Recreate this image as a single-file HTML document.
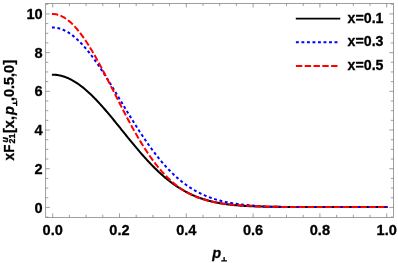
<!DOCTYPE html>
<html><head><meta charset="utf-8"><style>
html,body{margin:0;padding:0;background:#fff;}
svg{display:block;will-change:transform;}
text{font-family:"Liberation Sans",sans-serif;font-weight:bold;fill:#000;stroke:#000;stroke-width:0.3px;}
</style></head><body>
<svg width="398" height="263" viewBox="0 0 398 263">
<rect width="398" height="263" fill="#fff"/>
<g fill="none" stroke-linecap="butt" stroke-linejoin="round">
<path d="M51.90,74.67 L52.73,74.67 L53.57,74.69 L54.40,74.73 L55.24,74.79 L56.07,74.87 L56.91,74.97 L57.74,75.09 L58.58,75.23 L59.42,75.39 L60.25,75.57 L61.09,75.77 L61.92,75.99 L62.76,76.22 L63.59,76.48 L64.43,76.76 L65.26,77.05 L66.10,77.36 L66.93,77.70 L67.77,78.05 L68.60,78.42 L69.44,78.81 L70.27,79.21 L71.11,79.64 L71.94,80.08 L72.78,80.54 L73.61,81.02 L74.45,81.52 L75.28,82.03 L76.12,82.56 L76.95,83.11 L77.79,83.67 L78.62,84.25 L79.46,84.85 L80.29,85.46 L81.13,86.09 L81.96,86.73 L82.80,87.39 L83.63,88.07 L84.47,88.76 L85.31,89.46 L86.14,90.18 L86.98,90.91 L87.81,91.66 L88.65,92.42 L89.48,93.19 L90.32,93.98 L91.15,94.78 L91.99,95.59 L92.82,96.41 L93.66,97.25 L94.49,98.10 L95.33,98.95 L96.16,99.82 L97.00,100.70 L97.83,101.59 L98.67,102.49 L99.50,103.40 L100.34,104.32 L101.17,105.24 L102.01,106.18 L102.84,107.12 L103.68,108.08 L104.51,109.03 L105.35,110.00 L106.18,110.97 L107.02,111.95 L107.85,112.94 L108.69,113.93 L109.53,114.93 L110.36,115.93 L111.20,116.94 L112.03,117.95 L112.87,118.97 L113.70,119.98 L114.54,121.01 L115.37,122.03 L116.21,123.06 L117.04,124.09 L117.88,125.13 L118.71,126.16 L119.55,127.20 L120.38,128.23 L121.22,129.27 L122.05,130.31 L122.89,131.35 L123.72,132.39 L124.56,133.42 L125.39,134.46 L126.23,135.49 L127.06,136.53 L127.90,137.56 L128.73,138.59 L129.57,139.61 L130.40,140.64 L131.24,141.66 L132.07,142.68 L132.91,143.69 L133.75,144.70 L134.58,145.70 L135.42,146.71 L136.25,147.70 L137.09,148.69 L137.92,149.68 L138.76,150.66 L139.59,151.63 L140.43,152.60 L141.26,153.56 L142.10,154.52 L142.93,155.46 L143.77,156.41 L144.60,157.34 L145.44,158.27 L146.27,159.18 L147.11,160.10 L147.94,161.00 L148.78,161.89 L149.61,162.78 L150.45,163.66 L151.28,164.53 L152.12,165.39 L152.95,166.24 L153.79,167.08 L154.62,167.92 L155.46,168.74 L156.29,169.55 L157.13,170.36 L157.96,171.15 L158.80,171.94 L159.64,172.71 L160.47,173.48 L161.31,174.23 L162.14,174.98 L162.98,175.71 L163.81,176.44 L164.65,177.15 L165.48,177.85 L166.32,178.55 L167.15,179.23 L167.99,179.90 L168.82,180.56 L169.66,181.21 L170.49,181.85 L171.33,182.48 L172.16,183.10 L173.00,183.71 L173.83,184.31 L174.67,184.90 L175.50,185.47 L176.34,186.04 L177.17,186.60 L178.01,187.14 L178.84,187.68 L179.68,188.20 L180.51,188.72 L181.35,189.22 L182.18,189.72 L183.02,190.20 L183.86,190.68 L184.69,191.14 L185.53,191.60 L186.36,192.04 L187.20,192.48 L188.03,192.90 L188.87,193.32 L189.70,193.73 L190.54,194.13 L191.37,194.51 L192.21,194.89 L193.04,195.27 L193.88,195.63 L194.71,195.98 L195.55,196.33 L196.38,196.66 L197.22,196.99 L198.05,197.31 L198.89,197.62 L199.72,197.92 L200.56,198.22 L201.39,198.51 L202.23,198.79 L203.06,199.06 L203.90,199.33 L204.73,199.58 L205.57,199.84 L206.40,200.08 L207.24,200.32 L208.08,200.55 L208.91,200.77 L209.75,200.99 L210.58,201.20 L211.42,201.41 L212.25,201.60 L213.09,201.80 L213.92,201.98 L214.76,202.17 L215.59,202.34 L216.43,202.51 L217.26,202.68 L218.10,202.84 L218.93,202.99 L219.77,203.14 L220.60,203.29 L221.44,203.43 L222.27,203.56 L223.11,203.70 L223.94,203.82 L224.78,203.95 L225.61,204.06 L226.45,204.18 L227.28,204.29 L228.12,204.40 L228.95,204.50 L229.79,204.60 L230.62,204.70 L231.46,204.79 L232.29,204.88 L233.13,204.97 L233.97,205.05 L234.80,205.13 L235.64,205.21 L236.47,205.28 L237.31,205.35 L238.14,205.42 L238.98,205.49 L239.81,205.55 L240.65,205.61 L241.48,205.67 L242.32,205.73 L243.15,205.79 L243.99,205.84 L244.82,205.89 L245.66,205.94 L246.49,205.98 L247.33,206.03 L248.16,206.07 L249.00,206.11 L249.83,206.15 L250.67,206.19 L251.50,206.23 L252.34,206.26 L253.17,206.30 L254.01,206.33 L254.84,206.36 L255.68,206.39 L256.51,206.42 L257.35,206.45 L258.19,206.47 L259.02,206.50 L259.86,206.52 L260.69,206.55 L261.53,206.57 L262.36,206.59 L263.20,206.61 L264.03,206.63 L264.87,206.65 L265.70,206.67 L266.54,206.69 L267.37,206.70 L268.21,206.72 L269.04,206.73 L269.88,206.75 L270.71,206.76 L271.55,206.78 L272.38,206.79 L273.22,206.80 L274.05,206.81 L274.89,206.82 L275.72,206.84 L276.56,206.85 L277.39,206.86 L278.23,206.87 L279.06,206.87 L279.90,206.88 L280.73,206.89 L281.57,206.90 L282.41,206.91 L283.24,206.91 L284.08,206.92 L284.91,206.93 L285.75,206.93 L286.58,206.94 L287.42,206.94 L288.25,206.95 L289.09,206.95 L289.92,206.96 L290.76,206.96 L291.59,206.97 L292.43,206.97 L293.26,206.98 L294.10,206.98 L294.93,206.98 L295.77,206.99 L296.60,206.99 L297.44,206.99 L298.27,207.00 L299.11,207.00 L299.94,207.00 L300.78,207.00 L301.61,207.01 L302.45,207.01 L303.28,207.01 L304.12,207.01 L304.95,207.02 L305.79,207.02 L306.62,207.02 L307.46,207.02 L308.30,207.02 L309.13,207.02 L309.97,207.03 L310.80,207.03 L311.64,207.03 L312.47,207.03 L313.31,207.03 L314.14,207.03 L314.98,207.03 L315.81,207.03 L316.65,207.03 L317.48,207.04 L318.32,207.04 L319.15,207.04 L319.99,207.04 L320.82,207.04 L321.66,207.04 L322.49,207.04 L323.33,207.04 L324.16,207.04 L325.00,207.04 L325.83,207.04 L326.67,207.04 L327.50,207.04 L328.34,207.04 L329.17,207.04 L330.01,207.04 L330.84,207.04 L331.68,207.04 L332.52,207.04 L333.35,207.05 L334.19,207.05 L335.02,207.05 L335.86,207.05 L336.69,207.05 L337.53,207.05 L338.36,207.05 L339.20,207.05 L340.03,207.05 L340.87,207.05 L341.70,207.05 L342.54,207.05 L343.37,207.05 L344.21,207.05 L345.04,207.05 L345.88,207.05 L346.71,207.05 L347.55,207.05 L348.38,207.05 L349.22,207.05 L350.05,207.05 L350.89,207.05 L351.72,207.05 L352.56,207.05 L353.39,207.05 L354.23,207.05 L355.06,207.05 L355.90,207.05 L356.74,207.05 L357.57,207.05 L358.41,207.05 L359.24,207.05 L360.08,207.05 L360.91,207.05 L361.75,207.05 L362.58,207.05 L363.42,207.05 L364.25,207.05 L365.09,207.05 L365.92,207.05 L366.76,207.05 L367.59,207.05 L368.43,207.05 L369.26,207.05 L370.10,207.05 L370.93,207.05 L371.77,207.05 L372.60,207.05 L373.44,207.05 L374.27,207.05 L375.11,207.05 L375.94,207.05 L376.78,207.05 L377.61,207.05 L378.45,207.05 L379.28,207.05 L380.12,207.05 L380.95,207.05 L381.79,207.05 L382.63,207.05 L383.46,207.05 L384.30,207.05 L385.13,207.05 L385.97,207.05 L386.80,207.05 L387.64,207.05" stroke="#000" stroke-width="2.05"/>
<path d="M51.90,27.51 L52.73,27.51 L53.57,27.54 L54.40,27.60 L55.24,27.68 L56.07,27.79 L56.91,27.93 L57.74,28.09 L58.58,28.29 L59.42,28.51 L60.25,28.75 L61.09,29.03 L61.92,29.33 L62.76,29.66 L63.59,30.01 L64.43,30.39 L65.26,30.80 L66.10,31.23 L66.93,31.69 L67.77,32.18 L68.60,32.69 L69.44,33.22 L70.27,33.79 L71.11,34.37 L71.94,34.98 L72.78,35.62 L73.61,36.28 L74.45,36.96 L75.28,37.67 L76.12,38.40 L76.95,39.15 L77.79,39.93 L78.62,40.73 L79.46,41.55 L80.29,42.39 L81.13,43.26 L81.96,44.14 L82.80,45.05 L83.63,45.97 L84.47,46.92 L85.31,47.88 L86.14,48.87 L86.98,49.87 L87.81,50.89 L88.65,51.93 L89.48,52.99 L90.32,54.07 L91.15,55.16 L91.99,56.26 L92.82,57.39 L93.66,58.53 L94.49,59.68 L95.33,60.85 L96.16,62.03 L97.00,63.23 L97.83,64.44 L98.67,65.66 L99.50,66.89 L100.34,68.14 L101.17,69.40 L102.01,70.66 L102.84,71.94 L103.68,73.23 L104.51,74.53 L105.35,75.84 L106.18,77.15 L107.02,78.48 L107.85,79.81 L108.69,81.14 L109.53,82.49 L110.36,83.84 L111.20,85.19 L112.03,86.56 L112.87,87.92 L113.70,89.29 L114.54,90.67 L115.37,92.04 L116.21,93.42 L117.04,94.81 L117.88,96.19 L118.71,97.58 L119.55,98.96 L120.38,100.35 L121.22,101.74 L122.05,103.12 L122.89,104.51 L123.72,105.90 L124.56,107.28 L125.39,108.66 L126.23,110.04 L127.06,111.42 L127.90,112.79 L128.73,114.16 L129.57,115.52 L130.40,116.89 L131.24,118.24 L132.07,119.59 L132.91,120.94 L133.75,122.28 L134.58,123.61 L135.42,124.94 L136.25,126.26 L137.09,127.57 L137.92,128.87 L138.76,130.17 L139.59,131.46 L140.43,132.74 L141.26,134.01 L142.10,135.28 L142.93,136.53 L143.77,137.77 L144.60,139.01 L145.44,140.23 L146.27,141.45 L147.11,142.65 L147.94,143.84 L148.78,145.02 L149.61,146.19 L150.45,147.35 L151.28,148.50 L152.12,149.64 L152.95,150.76 L153.79,151.87 L154.62,152.97 L155.46,154.06 L156.29,155.13 L157.13,156.20 L157.96,157.24 L158.80,158.28 L159.64,159.31 L160.47,160.32 L161.31,161.31 L162.14,162.30 L162.98,163.27 L163.81,164.23 L164.65,165.17 L165.48,166.10 L166.32,167.02 L167.15,167.93 L167.99,168.82 L168.82,169.69 L169.66,170.56 L170.49,171.41 L171.33,172.25 L172.16,173.07 L173.00,173.88 L173.83,174.68 L174.67,175.46 L175.50,176.23 L176.34,176.98 L177.17,177.73 L178.01,178.46 L178.84,179.17 L179.68,179.88 L180.51,180.57 L181.35,181.25 L182.18,181.91 L183.02,182.56 L183.86,183.20 L184.69,183.83 L185.53,184.45 L186.36,185.05 L187.20,185.64 L188.03,186.22 L188.87,186.78 L189.70,187.34 L190.54,187.88 L191.37,188.41 L192.21,188.93 L193.04,189.43 L193.88,189.93 L194.71,190.42 L195.55,190.89 L196.38,191.35 L197.22,191.81 L198.05,192.25 L198.89,192.68 L199.72,193.10 L200.56,193.51 L201.39,193.92 L202.23,194.31 L203.06,194.69 L203.90,195.06 L204.73,195.43 L205.57,195.78 L206.40,196.13 L207.24,196.46 L208.08,196.79 L208.91,197.11 L209.75,197.42 L210.58,197.72 L211.42,198.02 L212.25,198.30 L213.09,198.58 L213.92,198.85 L214.76,199.12 L215.59,199.37 L216.43,199.62 L217.26,199.86 L218.10,200.10 L218.93,200.33 L219.77,200.55 L220.60,200.77 L221.44,200.98 L222.27,201.18 L223.11,201.38 L223.94,201.57 L224.78,201.75 L225.61,201.93 L226.45,202.11 L227.28,202.28 L228.12,202.44 L228.95,202.60 L229.79,202.75 L230.62,202.90 L231.46,203.05 L232.29,203.19 L233.13,203.32 L233.97,203.45 L234.80,203.58 L235.64,203.70 L236.47,203.82 L237.31,203.94 L238.14,204.05 L238.98,204.16 L239.81,204.26 L240.65,204.36 L241.48,204.46 L242.32,204.55 L243.15,204.64 L243.99,204.73 L244.82,204.81 L245.66,204.90 L246.49,204.97 L247.33,205.05 L248.16,205.12 L249.00,205.19 L249.83,205.26 L250.67,205.33 L251.50,205.39 L252.34,205.45 L253.17,205.52 L254.01,205.63 L254.84,205.73 L255.68,205.82 L256.51,205.91 L257.35,205.99 L258.19,206.06 L259.02,206.13 L259.86,206.20 L260.69,206.26 L261.53,206.32 L262.36,206.37 L263.20,206.42 L264.03,206.47 L264.87,206.51 L265.70,206.55 L266.54,206.59 L267.37,206.62 L268.21,206.65 L269.04,206.68 L269.88,206.71 L270.71,206.73 L271.55,206.76 L272.38,206.78 L273.22,206.80 L274.05,206.82 L274.89,206.84 L275.72,206.85 L276.56,206.87 L277.39,206.88 L278.23,206.90 L279.06,206.91 L279.90,206.92 L280.73,206.93 L281.57,206.94 L282.41,206.95 L283.24,206.96 L284.08,206.96 L284.91,206.97 L285.75,206.98 L286.58,206.98 L287.42,206.99 L288.25,206.99 L289.09,207.00 L289.92,207.00 L290.76,207.01 L291.59,207.01 L292.43,207.01 L293.26,207.02 L294.10,207.02 L294.93,207.02 L295.77,207.02 L296.60,207.03 L297.44,207.03 L298.27,207.03 L299.11,207.03 L299.94,207.03 L300.78,207.03 L301.61,207.04 L302.45,207.04 L303.28,207.04 L304.12,207.04 L304.95,207.04 L305.79,207.04 L306.62,207.04 L307.46,207.04 L308.30,207.04 L309.13,207.04 L309.97,207.04 L310.80,207.04 L311.64,207.05 L312.47,207.05 L313.31,207.05 L314.14,207.05 L314.98,207.05 L315.81,207.05 L316.65,207.05 L317.48,207.05 L318.32,207.05 L319.15,207.05 L319.99,207.05 L320.82,207.05 L321.66,207.05 L322.49,207.05 L323.33,207.05 L324.16,207.05 L325.00,207.05 L325.83,207.05 L326.67,207.05 L327.50,207.05 L328.34,207.05 L329.17,207.05 L330.01,207.05 L330.84,207.05 L331.68,207.05 L332.52,207.05 L333.35,207.05 L334.19,207.05 L335.02,207.05 L335.86,207.05 L336.69,207.05 L337.53,207.05 L338.36,207.05 L339.20,207.05 L340.03,207.05 L340.87,207.05 L341.70,207.05 L342.54,207.05 L343.37,207.05 L344.21,207.05 L345.04,207.05 L345.88,207.05 L346.71,207.05 L347.55,207.05 L348.38,207.05 L349.22,207.05 L350.05,207.05 L350.89,207.05 L351.72,207.05 L352.56,207.05 L353.39,207.05 L354.23,207.05 L355.06,207.05 L355.90,207.05 L356.74,207.05 L357.57,207.05 L358.41,207.05 L359.24,207.05 L360.08,207.05 L360.91,207.05 L361.75,207.05 L362.58,207.05 L363.42,207.05 L364.25,207.05 L365.09,207.05 L365.92,207.05 L366.76,207.05 L367.59,207.05 L368.43,207.05 L369.26,207.05 L370.10,207.05 L370.93,207.05 L371.77,207.05 L372.60,207.05 L373.44,207.05 L374.27,207.05 L375.11,207.05 L375.94,207.05 L376.78,207.05 L377.61,207.05 L378.45,207.05 L379.28,207.05 L380.12,207.05 L380.95,207.05 L381.79,207.05 L382.63,207.05 L383.46,207.05 L384.30,207.05 L385.13,207.05 L385.97,207.05 L386.80,207.05 L387.64,207.05" stroke="#0000ff" stroke-width="2.0" stroke-dasharray="2.9 2.62"/>
<path d="M51.90,13.99 L52.73,13.99 L53.57,14.03 L54.40,14.10 L55.24,14.21 L56.07,14.35 L56.91,14.53 L57.74,14.74 L58.58,14.99 L59.42,15.28 L60.25,15.60 L61.09,15.95 L61.92,16.34 L62.76,16.77 L63.59,17.23 L64.43,17.72 L65.26,18.25 L66.10,18.81 L66.93,19.40 L67.77,20.03 L68.60,20.69 L69.44,21.38 L70.27,22.11 L71.11,22.86 L71.94,23.65 L72.78,24.47 L73.61,25.32 L74.45,26.20 L75.28,27.11 L76.12,28.05 L76.95,29.02 L77.79,30.01 L78.62,31.04 L79.46,32.09 L80.29,33.17 L81.13,34.27 L81.96,35.40 L82.80,36.56 L83.63,37.74 L84.47,38.95 L85.31,40.18 L86.14,41.43 L86.98,42.71 L87.81,44.00 L88.65,45.32 L89.48,46.66 L90.32,48.02 L91.15,49.40 L91.99,50.79 L92.82,52.21 L93.66,53.64 L94.49,55.09 L95.33,56.56 L96.16,58.04 L97.00,59.54 L97.83,61.05 L98.67,62.57 L99.50,64.11 L100.34,65.66 L101.17,67.22 L102.01,68.79 L102.84,70.37 L103.68,71.96 L104.51,73.56 L105.35,75.17 L106.18,76.79 L107.02,78.41 L107.85,80.04 L108.69,81.67 L109.53,83.31 L110.36,84.95 L111.20,86.59 L112.03,88.24 L112.87,89.89 L113.70,91.54 L114.54,93.19 L115.37,94.84 L116.21,96.49 L117.04,98.14 L117.88,99.78 L118.71,101.43 L119.55,103.07 L120.38,104.71 L121.22,106.34 L122.05,107.97 L122.89,109.59 L123.72,111.21 L124.56,112.82 L125.39,114.42 L126.23,116.01 L127.06,117.60 L127.90,119.18 L128.73,120.75 L129.57,122.30 L130.40,123.85 L131.24,125.39 L132.07,126.92 L132.91,128.43 L133.75,129.93 L134.58,131.43 L135.42,132.90 L136.25,134.37 L137.09,135.82 L137.92,137.26 L138.76,138.68 L139.59,140.09 L140.43,141.48 L141.26,142.86 L142.10,144.22 L142.93,145.57 L143.77,146.90 L144.60,148.22 L145.44,149.52 L146.27,150.80 L147.11,152.07 L147.94,153.31 L148.78,154.55 L149.61,155.76 L150.45,156.96 L151.28,158.14 L152.12,159.30 L152.95,160.44 L153.79,161.57 L154.62,162.68 L155.46,163.77 L156.29,164.84 L157.13,165.90 L157.96,166.93 L158.80,167.95 L159.64,168.95 L160.47,169.93 L161.31,170.90 L162.14,171.84 L162.98,172.77 L163.81,173.68 L164.65,174.58 L165.48,175.45 L166.32,176.31 L167.15,177.15 L167.99,177.98 L168.82,178.78 L169.66,179.57 L170.49,180.34 L171.33,181.10 L172.16,181.84 L173.00,182.56 L173.83,183.26 L174.67,183.95 L175.50,184.63 L176.34,185.29 L177.17,185.93 L178.01,186.55 L178.84,187.17 L179.68,187.76 L180.51,188.35 L181.35,188.91 L182.18,189.47 L183.02,190.01 L183.86,190.53 L184.69,191.04 L185.53,191.54 L186.36,192.02 L187.20,192.50 L188.03,192.95 L188.87,193.40 L189.70,193.83 L190.54,194.26 L191.37,194.67 L192.21,195.06 L193.04,195.45 L193.88,195.83 L194.71,196.19 L195.55,196.55 L196.38,196.89 L197.22,197.22 L198.05,197.55 L198.89,197.86 L199.72,198.17 L200.56,198.46 L201.39,198.75 L202.23,199.02 L203.06,199.29 L203.90,199.55 L204.73,199.80 L205.57,200.05 L206.40,200.28 L207.24,200.51 L208.08,200.73 L208.91,200.95 L209.75,201.15 L210.58,201.35 L211.42,201.55 L212.25,201.73 L213.09,201.91 L213.92,202.09 L214.76,202.26 L215.59,202.42 L216.43,202.58 L217.26,202.73 L218.10,202.87 L218.93,203.02 L219.77,203.15 L220.60,203.28 L221.44,203.41 L222.27,203.53 L223.11,203.65 L223.94,203.77 L224.78,203.88 L225.61,203.98 L226.45,204.08 L227.28,204.18 L228.12,204.28 L228.95,204.37 L229.79,204.46 L230.62,204.54 L231.46,204.62 L232.29,204.70 L233.13,204.78 L233.97,204.85 L234.80,204.92 L235.64,204.99 L236.47,205.05 L237.31,205.11 L238.14,205.17 L238.98,205.23 L239.81,205.29 L240.65,205.34 L241.48,205.39 L242.32,205.44 L243.15,205.49 L243.99,205.54 L244.82,205.58 L245.66,205.62 L246.49,205.66 L247.33,205.70 L248.16,205.74 L249.00,205.77 L249.83,205.81 L250.67,205.84 L251.50,205.87 L252.34,205.90 L253.17,205.94 L254.01,206.00 L254.84,206.05 L255.68,206.11 L256.51,206.16 L257.35,206.20 L258.19,206.25 L259.02,206.29 L259.86,206.33 L260.69,206.37 L261.53,206.41 L262.36,206.44 L263.20,206.48 L264.03,206.51 L264.87,206.54 L265.70,206.57 L266.54,206.59 L267.37,206.62 L268.21,206.64 L269.04,206.67 L269.88,206.69 L270.71,206.71 L271.55,206.73 L272.38,206.75 L273.22,206.76 L274.05,206.78 L274.89,206.80 L275.72,206.81 L276.56,206.83 L277.39,206.84 L278.23,206.85 L279.06,206.86 L279.90,206.87 L280.73,206.88 L281.57,206.89 L282.41,206.90 L283.24,206.91 L284.08,206.92 L284.91,206.93 L285.75,206.94 L286.58,206.94 L287.42,206.95 L288.25,206.96 L289.09,206.96 L289.92,206.97 L290.76,206.97 L291.59,206.98 L292.43,206.98 L293.26,206.99 L294.10,206.99 L294.93,206.99 L295.77,207.00 L296.60,207.00 L297.44,207.00 L298.27,207.01 L299.11,207.01 L299.94,207.01 L300.78,207.01 L301.61,207.02 L302.45,207.02 L303.28,207.02 L304.12,207.02 L304.95,207.02 L305.79,207.03 L306.62,207.03 L307.46,207.03 L308.30,207.03 L309.13,207.03 L309.97,207.03 L310.80,207.03 L311.64,207.04 L312.47,207.04 L313.31,207.04 L314.14,207.04 L314.98,207.04 L315.81,207.04 L316.65,207.04 L317.48,207.04 L318.32,207.04 L319.15,207.04 L319.99,207.04 L320.82,207.04 L321.66,207.04 L322.49,207.04 L323.33,207.04 L324.16,207.04 L325.00,207.05 L325.83,207.05 L326.67,207.05 L327.50,207.05 L328.34,207.05 L329.17,207.05 L330.01,207.05 L330.84,207.05 L331.68,207.05 L332.52,207.05 L333.35,207.05 L334.19,207.05 L335.02,207.05 L335.86,207.05 L336.69,207.05 L337.53,207.05 L338.36,207.05 L339.20,207.05 L340.03,207.05 L340.87,207.05 L341.70,207.05 L342.54,207.05 L343.37,207.05 L344.21,207.05 L345.04,207.05 L345.88,207.05 L346.71,207.05 L347.55,207.05 L348.38,207.05 L349.22,207.05 L350.05,207.05 L350.89,207.05 L351.72,207.05 L352.56,207.05 L353.39,207.05 L354.23,207.05 L355.06,207.05 L355.90,207.05 L356.74,207.05 L357.57,207.05 L358.41,207.05 L359.24,207.05 L360.08,207.05 L360.91,207.05 L361.75,207.05 L362.58,207.05 L363.42,207.05 L364.25,207.05 L365.09,207.05 L365.92,207.05 L366.76,207.05 L367.59,207.05 L368.43,207.05 L369.26,207.05 L370.10,207.05 L370.93,207.05 L371.77,207.05 L372.60,207.05 L373.44,207.05 L374.27,207.05 L375.11,207.05 L375.94,207.05 L376.78,207.05 L377.61,207.05 L378.45,207.05 L379.28,207.05 L380.12,207.05 L380.95,207.05 L381.79,207.05 L382.63,207.05 L383.46,207.05 L384.30,207.05 L385.13,207.05 L385.97,207.05 L386.80,207.05 L387.64,207.05" stroke="#ff0000" stroke-width="2.0" stroke-dasharray="6.4 2.4"/>
</g>
<rect x="45.7" y="3.4" width="347.7" height="214.0" fill="none" stroke="#777" stroke-width="0.7"/>
<path d="M52.70,217.4 v-4.1 M52.70,3.4 v4.1 M69.40,217.4 v-2.6 M69.40,3.4 v2.6 M86.10,217.4 v-2.6 M86.10,3.4 v2.6 M102.80,217.4 v-2.6 M102.80,3.4 v2.6 M119.50,217.4 v-4.1 M119.50,3.4 v4.1 M136.20,217.4 v-2.6 M136.20,3.4 v2.6 M152.90,217.4 v-2.6 M152.90,3.4 v2.6 M169.60,217.4 v-2.6 M169.60,3.4 v2.6 M186.30,217.4 v-4.1 M186.30,3.4 v4.1 M203.00,217.4 v-2.6 M203.00,3.4 v2.6 M219.70,217.4 v-2.6 M219.70,3.4 v2.6 M236.40,217.4 v-2.6 M236.40,3.4 v2.6 M253.10,217.4 v-4.1 M253.10,3.4 v4.1 M269.80,217.4 v-2.6 M269.80,3.4 v2.6 M286.50,217.4 v-2.6 M286.50,3.4 v2.6 M303.20,217.4 v-2.6 M303.20,3.4 v2.6 M319.90,217.4 v-4.1 M319.90,3.4 v4.1 M336.60,217.4 v-2.6 M336.60,3.4 v2.6 M353.30,217.4 v-2.6 M353.30,3.4 v2.6 M370.00,217.4 v-2.6 M370.00,3.4 v2.6 M386.70,217.4 v-4.1 M386.70,3.4 v4.1 M45.7,217.13 h2.6 M393.4,217.13 h-2.6 M45.7,207.45 h4.1 M393.4,207.45 h-4.1 M45.7,197.77 h2.6 M393.4,197.77 h-2.6 M45.7,188.09 h2.6 M393.4,188.09 h-2.6 M45.7,178.42 h2.6 M393.4,178.42 h-2.6 M45.7,168.74 h4.1 M393.4,168.74 h-4.1 M45.7,159.06 h2.6 M393.4,159.06 h-2.6 M45.7,149.38 h2.6 M393.4,149.38 h-2.6 M45.7,139.71 h2.6 M393.4,139.71 h-2.6 M45.7,130.03 h4.1 M393.4,130.03 h-4.1 M45.7,120.35 h2.6 M393.4,120.35 h-2.6 M45.7,110.67 h2.6 M393.4,110.67 h-2.6 M45.7,101.00 h2.6 M393.4,101.00 h-2.6 M45.7,91.32 h4.1 M393.4,91.32 h-4.1 M45.7,81.64 h2.6 M393.4,81.64 h-2.6 M45.7,71.96 h2.6 M393.4,71.96 h-2.6 M45.7,62.29 h2.6 M393.4,62.29 h-2.6 M45.7,52.61 h4.1 M393.4,52.61 h-4.1 M45.7,42.93 h2.6 M393.4,42.93 h-2.6 M45.7,33.25 h2.6 M393.4,33.25 h-2.6 M45.7,23.58 h2.6 M393.4,23.58 h-2.6 M45.7,13.90 h4.1 M393.4,13.90 h-4.1 M45.7,4.22 h2.6 M393.4,4.22 h-2.6" stroke="#777" stroke-width="0.7" fill="none"/>
<g font-size="14.8px"><text transform="translate(52.70,235.2) scale(0.985,1.04)" text-anchor="middle">0.0</text><text transform="translate(119.50,235.2) scale(0.985,1.04)" text-anchor="middle">0.2</text><text transform="translate(186.30,235.2) scale(0.985,1.04)" text-anchor="middle">0.4</text><text transform="translate(253.10,235.2) scale(0.985,1.04)" text-anchor="middle">0.6</text><text transform="translate(319.90,235.2) scale(0.985,1.04)" text-anchor="middle">0.8</text><text transform="translate(386.70,235.2) scale(0.985,1.04)" text-anchor="middle">1.0</text><text transform="translate(42.6,212.50) scale(0.985,1.04)" text-anchor="end">0</text><text transform="translate(42.6,173.79) scale(0.985,1.04)" text-anchor="end">2</text><text transform="translate(42.6,135.08) scale(0.985,1.04)" text-anchor="end">4</text><text transform="translate(42.6,96.37) scale(0.985,1.04)" text-anchor="end">6</text><text transform="translate(42.6,57.66) scale(0.985,1.04)" text-anchor="end">8</text><text transform="translate(42.6,18.95) scale(0.985,1.04)" text-anchor="end">10</text></g>
<g fill="none">
<path d="M295.8,18.65 H340.3" stroke="#000" stroke-width="1.9"/>
<path d="M295.9,42.15 H338" stroke="#0000ff" stroke-width="2" stroke-dasharray="2.9 2.62"/>
<path d="M295.9,66 H338" stroke="#ff0000" stroke-width="1.9" stroke-dasharray="6.4 2.4"/>
</g>
<g font-size="14.2px">
<text transform="translate(347.6,22.5) scale(1,1.05)">x=0.1</text>
<text transform="translate(347.6,45.9) scale(1,1.05)">x=0.3</text>
<text transform="translate(347.6,69.7) scale(1,1.05)">x=0.5</text>
</g>
<text x="212.2" y="258.4" font-size="14.5px" font-style="italic">p</text>
<path d="M221.2,260.9 H227 M224.1,257 V260.9" stroke="#000" stroke-width="1.35" fill="none"/>
<g transform="translate(14.3,160.5) rotate(-90)" font-size="14.5px">
<text x="0" y="0" transform="scale(0.93,1)" letter-spacing="0.3">xF</text>
<text x="17.9" y="-6.4" font-size="8.8px" font-style="italic" stroke-width="0.1">u</text>
<text x="17.0" y="0.6" font-size="8.8px" stroke-width="0.1">21</text>
<text x="27.5" y="0">[x,</text>
<text x="45.4" y="0" font-style="italic">p</text>
<path d="M54.4,2.3 H60.1 M57.25,-1.7 V2.3" stroke="#000" stroke-width="1.3" fill="none"/>
<text x="59.4" y="0">,0.5,0]</text>
</g>
</svg>
</body></html>
